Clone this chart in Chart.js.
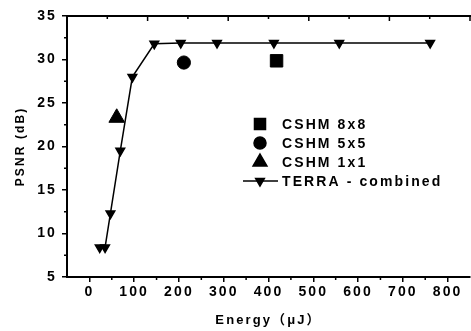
<!DOCTYPE html>
<html>
<head>
<meta charset="utf-8">
<script src="https://cdn.jsdelivr.net/npm/chart.js@4.4.1/dist/chart.umd.min.js"></script>
<style>
  html, body { margin: 0; padding: 0; overflow: hidden; background: #fff; }
  canvas { display: block; }
</style>
</head>
<body>
<canvas id="psnrChart" width="480" height="331"></canvas>
<script>
// values
const terraEnergy = [23, 35, 47, 69, 96, 145, 204, 285, 412, 558, 761];
const terraPsnr   = [8.4, 8.4, 12.3, 19.5, 28.0, 31.8, 31.9, 31.9, 31.9, 31.9, 31.9];
const cshm8Energy = [418];
const cshm8Psnr   = [29.85];
const cshm5Energy = [211];
const cshm5Psnr   = [29.65];
const cshm1Energy = [61];
const cshm1Psnr   = [23.3];

const seriesLabels = ['CSHM 8x8', 'CSHM 5x5', 'CSHM 1x1', 'TERRA - combined'];
const xTicks = [0, 100, 200, 300, 400, 500, 600, 700, 800];
const xMinor = [50, 150, 250, 350, 450, 550, 650, 750];
const yTicks = [5, 10, 15, 20, 25, 30, 35];
const yMinor = [7.5, 12.5, 17.5, 22.5, 27.5, 32.5];
const topMajor = [-50, 130, 310, 490, 670, 850];
const topMinor = [40, 220, 400, 580, 760];

const toPts = (xs, ys) => xs.map((x, i) => ({ x: x, y: ys[i] }));
const SPACING = '2.1px';
const tickFont = { family: '"Liberation Sans", Arial, sans-serif', weight: 'bold', size: 14 };
const titleFont = { family: '"Liberation Sans", Arial, "Noto Sans CJK SC", sans-serif', weight: 'bold', size: 12 };
const xTitleFont = { family: '"Liberation Sans", Arial, "Noto Sans CJK SC", sans-serif', weight: 'bold', size: 13 };

// wide letter spacing like the original figure
const spacingPlugin = {
  id: 'spacing',
  beforeLayout(c) { c.ctx.letterSpacing = SPACING; },
  beforeDraw(c) { c.ctx.letterSpacing = SPACING; }
};

// top frame, mirrored ticks, minor ticks and the legend
const framePlugin = {
  id: 'frame',
  afterDraw(c) {
    const ctx = c.ctx, a = c.chartArea, xs = c.scales.x, ys = c.scales.y;
    ctx.save();
    ctx.strokeStyle = '#000';
    ctx.fillStyle = '#000';
    ctx.lineWidth = 2;
    ctx.beginPath();
    ctx.moveTo(a.left - 1, a.top);
    ctx.lineTo(a.right + 2, a.top);
    ctx.stroke();
    ctx.lineWidth = 1.5;
    ctx.beginPath();
    topMajor.forEach(v => { const p = xs.getPixelForValue(v); ctx.moveTo(p, a.top); ctx.lineTo(p, a.top + 5); });
    topMinor.forEach(v => { const p = xs.getPixelForValue(v); ctx.moveTo(p, a.top); ctx.lineTo(p, a.top + 3); });
    xMinor.forEach(v => { const p = xs.getPixelForValue(v); ctx.moveTo(p, a.bottom); ctx.lineTo(p, a.bottom + 3); });
    yMinor.forEach(v => { const p = ys.getPixelForValue(v); ctx.moveTo(a.left, p); ctx.lineTo(a.left - 3, p); });
    ctx.stroke();

    // legend
    const lx = 260, tx = 282, rows = [124, 143, 162, 181];
    ctx.font = 'bold 14px "Liberation Sans", Arial, sans-serif';
    ctx.letterSpacing = SPACING;
    ctx.textBaseline = 'middle';
    ctx.textAlign = 'left';
    c.data.datasets.forEach((ds, i) => {
      const y = rows[i];
      if (ds.showLine) {
        ctx.lineWidth = 1.5;
        ctx.beginPath();
        ctx.moveTo(243, y);
        ctx.lineTo(278, y);
        ctx.stroke();
      }
      Chart.helpers.drawPoint(ctx, {
        pointStyle: ds.pointStyle, rotation: ds.pointRotation || 0,
        radius: ds.legendRadius, borderWidth: 1
      }, lx, y);
      ctx.fillText(ds.label, tx, y + 1);
    });
    ctx.restore();
  }
};

new Chart(document.getElementById('psnrChart'), {
  type: 'scatter',
  data: {
    datasets: [
      { label: seriesLabels[0], data: toPts(cshm8Energy, cshm8Psnr), pointStyle: 'rect',
        pointRadius: 8.8, legendRadius: 7.8, backgroundColor: '#000', borderColor: '#000', borderWidth: 1 },
      { label: seriesLabels[1], data: toPts(cshm5Energy, cshm5Psnr), pointStyle: 'circle',
        pointRadius: 6.6, legendRadius: 6, backgroundColor: '#000', borderColor: '#000', borderWidth: 1 },
      { label: seriesLabels[2], data: toPts(cshm1Energy, cshm1Psnr), pointStyle: 'triangle',
        pointRadius: 9, legendRadius: 8, backgroundColor: '#000', borderColor: '#000', borderWidth: 1 },
      { label: seriesLabels[3], data: toPts(terraEnergy, terraPsnr), pointStyle: 'triangle',
        pointRotation: 180, pointRadius: 5, legendRadius: 5, showLine: true,
        backgroundColor: '#000', borderColor: '#000', borderWidth: 1.5, tension: 0 }
    ]
  },
  options: {
    responsive: false,
    animation: false,
    events: [],
    layout: { padding: { top: 16, right: 2, left: 0, bottom: 0 } },
    plugins: { legend: { display: false }, tooltip: { enabled: false } },
    scales: {
      x: {
        type: 'linear', min: -50, max: 850, position: 'bottom',
        afterBuildTicks: s => { s.ticks = xTicks.map(v => ({ value: v })); },
        afterFit: s => { s.height = 54; },
        border: { color: '#000', width: 2 },
        grid: { drawOnChartArea: false, drawTicks: true, tickLength: 5, color: '#000', lineWidth: 1.5 },
        ticks: { color: '#000', font: tickFont, padding: 2, maxRotation: 0, autoSkip: false },
        title: { display: true, text: 'Energy（μJ）', color: '#000', font: xTitleFont, padding: { top: 0, bottom: 3 } }
      },
      y: {
        type: 'linear', min: 5, max: 35, position: 'left',
        afterBuildTicks: s => { s.ticks = yTicks.map(v => ({ value: v })); },
        afterFit: s => { s.width = 67; },
        border: { color: '#000', width: 2 },
        grid: { drawOnChartArea: false, drawTicks: true, tickLength: 5, color: '#000', lineWidth: 1.5 },
        ticks: { color: '#000', font: tickFont, padding: 5, autoSkip: false },
        title: { display: true, text: 'PSNR (dB)', color: '#000', font: titleFont, padding: { top: 13, bottom: 0 } }
      }
    }
  },
  plugins: [spacingPlugin, framePlugin]
});
</script>
</body>
</html>
